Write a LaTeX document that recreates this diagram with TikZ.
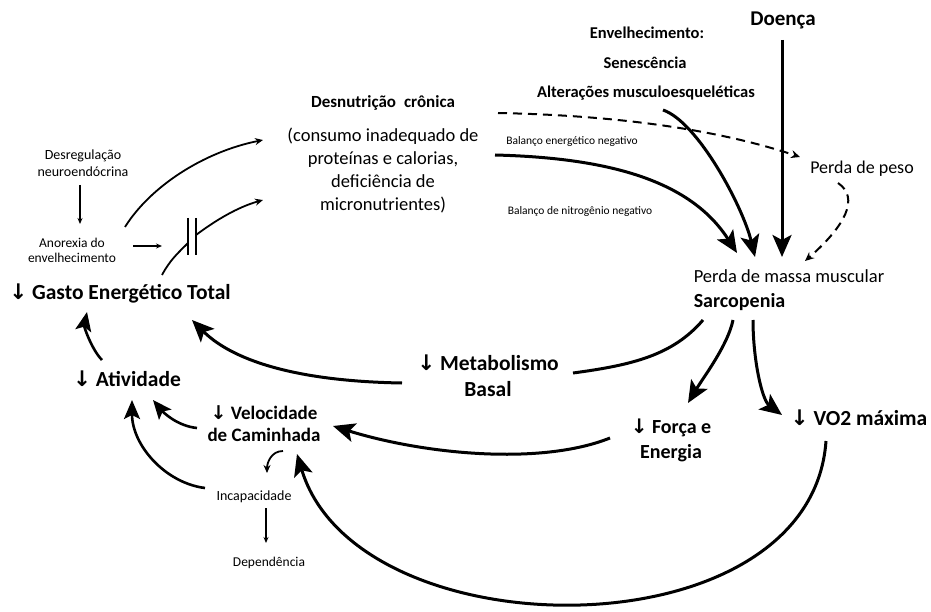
\documentclass[tikz,border=0pt]{standalone}
\usepackage{fontspec}
\setmainfont{Carlito}
\newfontfamily\arrowfont{DejaVu Sans}
\usetikzlibrary{arrows.meta}
\usetikzlibrary{calc}
\newcommand{\dn}{{\arrowfont ↓}}
\newcommand{\fsz}[2]{\fontsize{#1}{#2}\selectfont}
\tikzset{
  lblbig/.style = {inner sep=0, align=center, font=\bfseries\fsz{21.5}{26}},
  lblsub/.style = {inner sep=0, align=center, font=\bfseries\fsz{16.5}{20}},
  lbltext/.style = {inner sep=0, align=center, font=\fsz{18.5}{23}},
  lblnote/.style = {inner sep=0, align=center, font=\fsz{13.5}{16}},
  lblsmall/.style = {inner sep=0, font=\fsz{11.5}{14}},
  bigarr/.style = {line width=3, -{Stealth[length=22pt, width=19pt, inset=5pt]}},
  medarr/.style = {line width=2.6, -{Stealth[length=19pt, width=16pt, inset=4pt]}},
  thinarr/.style = {line width=1.8, -{Stealth[length=8pt, width=7pt]}},
  hairarr/.style = {line width=1.2, -{Stealth[length=6pt, width=5pt]}},
  dasharr/.style = {line width=2, dash pattern=on 9pt off 6pt, -{Stealth[length=9pt, width=8pt]}}
}

\begin{document}
\begin{tikzpicture}[x=1pt, y=-1pt]
  \useasboundingbox (0,0) rectangle (931,612);

  % causas
  \node[lblbig, font=\bfseries\fsz{21}{25}] (doenca) at (783,20) {Doença};
  \node[lblsub] (envelh) at (647,33) {Envelhecimento:};
  \node[lblsub] (senesc) at (645,63) {Senescência};
  \node[lblsub] (alter) at (646,93) {Alterações musculoesqueléticas};
  \node[lblsub, font=\bfseries\fsz{17}{20}] (desnut) at (383,103) {Desnutrição\hspace{0.25em} crônica};
  \node[lbltext] (consumo) at (383,171) {(consumo inadequado de\\proteínas e calorias,\\deficiência de\\micronutrientes)};
  \node[lblsmall] (balen) at (572,141) {Balanço energético negativo};
  \node[lblsmall] (balni) at (580,211) {Balanço de nitrogênio negativo};
  \node[lbltext, font=\fsz{18}{22}] (peso) at (862,169) {Perda de peso};
  \node[lbltext, align=left] (sarc) at (789,290)
    {Perda de massa muscular\\[2pt]\textbf{\fsz{20}{25}Sarcopenia}};

  \node[lblnote, font=\fsz{14}{17}] (desreg) at (83,163) {Desregulação\\neuroendócrina};
  \node[lblnote, font=\fsz{13.5}{15}] (anorex) at (72,250) {Anorexia do\\envelhecimento};
  \coordinate (brk) at (192,237);

  % consequencias
  \node[lblbig] (gasto) at (120,293) {\dn\ Gasto Energético Total};
  \node[lblbig] (metab) at (488,376) {\dn\ Metabolismo\\Basal};
  \node[lblbig] (ativ) at (127,379) {\dn\ Atividade};
  \node[lblbig, font=\bfseries\fsz{19}{22}] (veloc) at (264,424) {\dn\ Velocidade\\de Caminhada};
  \node[lblbig, font=\bfseries\fsz{20}{25}] (forca) at (671,440) {\dn\ Força e\\Energia};
  \node[lblbig] (vo2) at (859,418) {\dn\ VO2 máxima};
  \node[lblnote, font=\fsz{14}{17}] (incap) at (254,497) {Incapacidade};
  \node[lblnote] (depend) at (269,563) {Dependência};

  % setas do topo
  \draw[hairarr] ($(desreg)+(-3,22)$) -- ($(anorex)+(8,-26)$);
  \draw[hairarr] ($(anorex)+(61,-4)$) -- ($(brk)+(-30,9)$);
  \draw[line width=1.8] ($(brk)+(-4,-19)$) -- ($(brk)+(-4,18)$);
  \draw[line width=1.8] ($(brk)+(4,-19)$) -- ($(brk)+(4,18)$);
  \draw[thinarr] ($(anorex)+(53,-23)$) .. controls +(25,-40) and +(-60,12) .. ($(consumo)+(-120,-31)$);
  \draw[line width=1.8] ($(gasto)+(42,-18)$) .. controls +(8,-15) and +(-10,10) .. ($(brk)+(-4,6)$);
  \draw[thinarr] ($(brk)+(4,-2)$) .. controls +(20,-15) and +(-25,7) .. ($(consumo)+(-120,29)$);

  \draw[dasharr] ($(desnut)+(115,10)$) .. controls +(150,3) and +(-60,-20) .. ($(peso)+(-62,-12)$);
  \draw[dasharr] ($(peso)+(-24,14)$) .. controls +(22,15) and +(40,-35) .. ($(sarc)+(16,-29)$);

  \draw[bigarr] ($(consumo)+(112,-16)$) .. controls +(120,3) and +(-45,-70) .. ($(sarc)+(-52,-37)$);
  \draw[bigarr] ($(alter)+(17,17)$) .. controls +(35,12) and +(-12,-50) .. ($(sarc)+(-34,-33)$);
  \draw[bigarr] ($(doenca)+(-1,20)$) -- ($(sarc)+(-7,-33)$);

  % setas de baixo
  \draw[line width=3] ($(sarc)+(-86,30)$) .. controls +(-30,35) and +(60,-8) .. ($(metab)+(85,-3)$);
  \draw[bigarr] ($(metab)+(-86,7)$) .. controls +(-120,-2) and +(35,35) .. ($(gasto)+(72,27)$);
  \draw[bigarr] ($(sarc)+(-56,30)$) .. controls +(-5,25) and +(15,-25) .. ($(forca)+(17,-37)$);
  \draw[bigarr] ($(sarc)+(-36,30)$) .. controls +(0,40) and +(-20,-15) .. ($(vo2)+(-77,-3)$);
  \draw[bigarr] ($(forca)+(-61,-2)$) .. controls +(-70,28) and +(90,28) .. ($(veloc)+(69,2)$);
  \draw[bigarr] ($(vo2)+(-33,23)$) .. controls +(-15,215) and +(60,200) .. ($(veloc)+(33,30)$);
  \draw[medarr] ($(veloc)+(-67,4)$) .. controls +(-20,-2) and +(10,12) .. ($(ativ)+(26,21)$);
  \draw[medarr] ($(incap)+(-49,-9)$) .. controls +(-40,-5) and +(0,45) .. ($(ativ)+(5,21)$);
  \draw[medarr] ($(ativ)+(-25,-19)$) .. controls +(-10,-10) and +(-3,15) .. ($(gasto)+(-33,19)$);
  \draw[thinarr] ($(veloc)+(19,27)$) .. controls +(-12,0) and +(0,-10) .. ($(incap)+(13,-24)$);
  \draw[hairarr] ($(incap)+(12,11)$) -- ($(depend)+(-3,-20)$);
\end{tikzpicture}
\end{document}
